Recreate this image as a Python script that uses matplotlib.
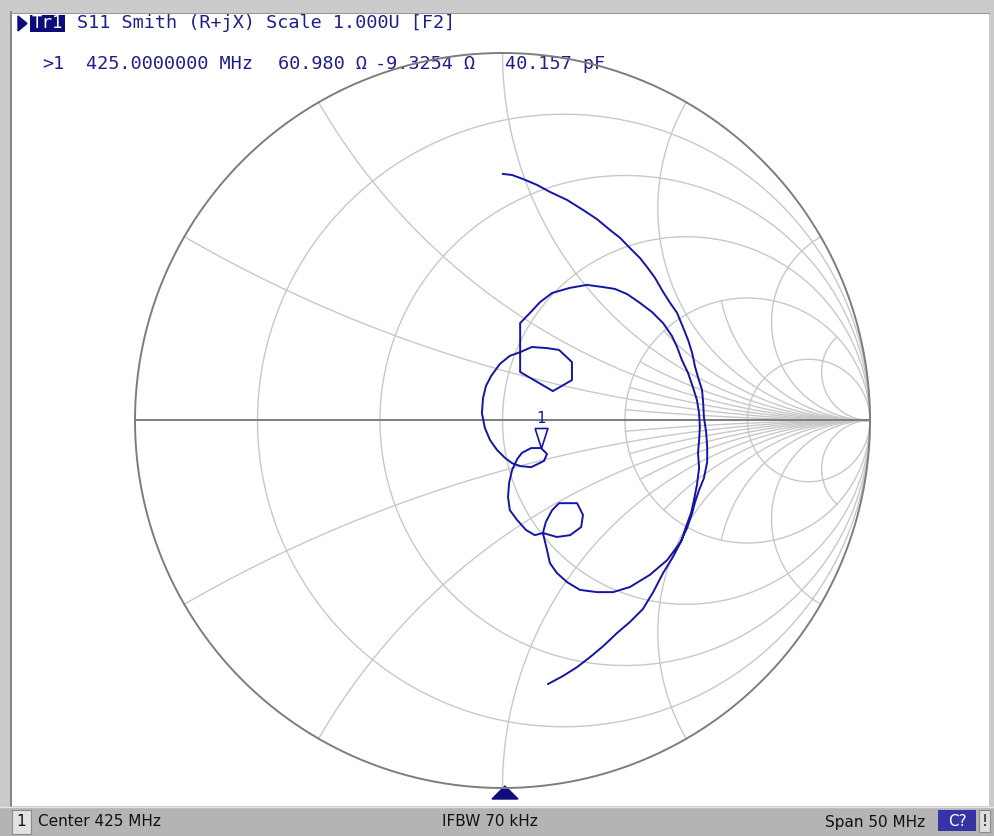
import numpy as np
import matplotlib.pyplot as plt
from matplotlib.patches import Rectangle, Polygon


gamma_re = [0.001, 0.026, 0.056, 0.094, 0.129, 0.176, 0.219, 0.257, 0.293, 0.320,
            0.347, 0.374, 0.393, 0.415, 0.437, 0.456, 0.475, 0.491, 0.505, 0.516,
            0.524, 0.532, 0.543, 0.546, 0.548, 0.554, 0.557, 0.557, 0.548, 0.535,
            0.524, 0.516, 0.502, 0.483, 0.448, 0.401, 0.347, 0.301, 0.257, 0.211,
            0.176, 0.148, 0.129, 0.121, 0.110,
            0.118, 0.135, 0.154, 0.203, 0.219, 0.214, 0.184, 0.148, 0.110,
            0.088, 0.064, 0.040, 0.020, 0.015, 0.018, 0.026,
            0.040, 0.053, 0.078, 0.105, 0.121, 0.113, 0.078, 0.048, 0.026,
            0.007, -0.015, -0.034, -0.048, -0.056, -0.053, -0.045, -0.031, -0.007,
            0.020, 0.048,
            0.080, 0.121, 0.154, 0.189, 0.189, 0.137, 0.094, 0.048, 0.048, 0.048,
            0.075, 0.102, 0.135, 0.184, 0.230, 0.274, 0.306, 0.339, 0.374, 0.407,
            0.437, 0.461, 0.475, 0.488, 0.505, 0.518, 0.529, 0.535, 0.537, 0.535,
            0.532, 0.535, 0.529, 0.521,
            0.513, 0.499, 0.488, 0.464, 0.437, 0.410, 0.382, 0.347, 0.312, 0.274,
            0.238, 0.203, 0.165, 0.124]
gamma_im = [0.671, 0.668, 0.657, 0.641, 0.622, 0.600, 0.573, 0.548, 0.518, 0.497,
            0.469, 0.442, 0.418, 0.388, 0.350, 0.320, 0.293, 0.254, 0.219, 0.184,
            0.146, 0.118, 0.083, 0.048, 0.010, -0.031, -0.072, -0.113, -0.157, -0.189,
            -0.222, -0.252, -0.293, -0.333, -0.380, -0.420, -0.453, -0.467, -0.467, -0.461,
            -0.440, -0.415, -0.388, -0.352, -0.306,
            -0.276, -0.244, -0.225, -0.225, -0.257, -0.290, -0.312, -0.317, -0.306,
            -0.312, -0.298, -0.271, -0.244, -0.208, -0.170, -0.135,
            -0.105, -0.088, -0.075, -0.075, -0.091, -0.110, -0.127, -0.124, -0.116,
            -0.102, -0.080, -0.053, -0.020, 0.020, 0.061, 0.094, 0.121, 0.154,
            0.176, 0.186,
            0.200, 0.197, 0.192, 0.159, 0.110, 0.080, 0.105, 0.132, 0.186, 0.265,
            0.293, 0.322, 0.347, 0.361, 0.369, 0.363, 0.358, 0.344, 0.320, 0.295,
            0.265, 0.230, 0.200, 0.165, 0.129, 0.091, 0.056, 0.020, -0.018, -0.053,
            -0.088, -0.129, -0.176, -0.216,
            -0.252, -0.290, -0.325, -0.371, -0.415, -0.467, -0.513, -0.548, -0.578, -0.614,
            -0.644, -0.671, -0.695, -0.717]

# marker 1 readout
marker_freq = "425.0000000 MHz"
marker_r = 60.980
marker_x = -9.3254
marker_cap = "40.157 pF"
z0 = 50.0

# Smith chart grid values (normalised resistance / reactance)
r_grid = [0.2, 0.5, 1.0, 2.0, 5.0]
x_grid = [0.268, 0.577, 1.0, 1.732, 3.732]
x_fine = [0.132, 0.414, 0.767, 1.303, 2.414, 7.596]
x_fine_from_r = 2.0

header = "S11 Smith (R+jX) Scale 1.000U [F2]"
status_left = "Center 425 MHz"
status_mid = "IFBW 70 kHz"
status_right = "Span 50 MHz"

TRACE = "#1414a8"
TEXT = "#1e1e8e"
NAVY = "#0c0c7a"
GRID = "#c8c8c8"
DARK = "#7d7d7d"


def to_gamma(z):
    return (z - 1) / (z + 1)


fig = plt.figure(figsize=(9.95, 8.36), dpi=100)
fig.patch.set_facecolor("#cbcbcb")

# window frame, pixel coordinates
bg = fig.add_axes([0, 0, 1, 1])
bg.set_xlim(0, 995)
bg.set_ylim(836, 0)
bg.set_axis_off()
bg.add_patch(Rectangle((12, 13), 977, 793, facecolor="white", edgecolor="none"))
bg.plot([10.5, 10.5], [12, 806], color="#7a7a7a", lw=1.2)
bg.plot([10.5, 989], [12.5, 12.5], color="#9a9a9a", lw=0.8)
bg.add_patch(Rectangle((0, 807), 995, 29, facecolor="#b4b4b4", edgecolor="none"))
bg.plot([0, 995], [807, 807], color="#e6e6e6", lw=1)

# header
bg.add_patch(Polygon([(18, 16), (18, 31), (27, 23.5)], closed=True, color=NAVY))
bg.add_patch(Rectangle((30, 15), 35, 17, facecolor=NAVY, edgecolor="none"))
bg.text(47.5, 23.5, "Tr1", color="white", ha="center", va="center",
        family="DejaVu Sans Mono", fontsize=12.5)
bg.text(77, 23.5, header, color=TEXT, ha="left", va="center",
        family="DejaVu Sans Mono", fontsize=13.3)

# marker readout line
mono = dict(color=TEXT, ha="left", va="center", family="DejaVu Sans Mono", fontsize=13.3)
bg.text(42, 64, ">1", **mono)
bg.text(86, 64, marker_freq, **mono)
bg.text(278, 64, "%.3f Ω" % marker_r, **mono)
bg.text(375, 64, "%.4f Ω" % marker_x, **mono)
bg.text(505, 64, marker_cap, **mono)

# stimulus marker at the bottom
bg.add_patch(Polygon([(492, 799), (518, 799), (505, 786)], closed=True, color=NAVY))

# status bar
bg.add_patch(Rectangle((12, 810), 19, 24, facecolor="#e2e2e2", edgecolor="#8a8a8a", lw=0.8))
bg.text(21.5, 822, "1", ha="center", va="center", fontsize=11, color="#111111")
bg.text(38, 822, status_left, ha="left", va="center", fontsize=11, color="#111111")
bg.text(442, 822, status_mid, ha="left", va="center", fontsize=11, color="#111111")
bg.text(925, 822, status_right, ha="right", va="center", fontsize=11, color="#111111")
bg.add_patch(Rectangle((938, 810), 38, 21, facecolor="#3434a4", edgecolor="none"))
bg.text(957, 821, "C?", ha="center", va="center", fontsize=11, color="white")
bg.add_patch(Rectangle((979, 810), 11, 22, facecolor="#dedede", edgecolor="#8a8a8a", lw=0.8))
bg.text(984.5, 821, "!", ha="center", va="center", fontsize=11, color="#111111")

# Smith chart axes: centre (502.5, 420.5) px, radius 367.5 px
cx, cy, rad, m = 502.5, 420.5, 367.5, 1.02
half = rad * m
ax = fig.add_axes([(cx - half) / 995, (836 - cy - half) / 836, 2 * half / 995, 2 * half / 836])
ax.set_xlim(-m, m)
ax.set_ylim(-m, m)
ax.set_axis_off()
ax.patch.set_visible(False)

t = np.linspace(0, 2 * np.pi, 721)
for r in r_grid:
    c = r / (1 + r)
    rr = 1 / (1 + r)
    ax.plot(c + rr * np.cos(t), rr * np.sin(t), color=GRID, lw=1.0, zorder=1)

r_full = np.append(np.tan(np.linspace(0, np.pi / 2 - 1e-3, 600)), 1e6)
for xv in x_grid:
    for s in (1, -1):
        g = to_gamma(r_full + 1j * s * xv)
        ax.plot(g.real, g.imag, color=GRID, lw=1.0, zorder=1)

r_part = np.append(np.tan(np.linspace(np.arctan(x_fine_from_r), np.pi / 2 - 1e-3, 300)), 1e6)
for xv in x_fine:
    for s in (1, -1):
        g = to_gamma(r_part + 1j * s * xv)
        ax.plot(g.real, g.imag, color=GRID, lw=1.0, zorder=1)

ax.plot(np.cos(t), np.sin(t), color=DARK, lw=1.4, zorder=2)
ax.plot([-1, 1], [0, 0], color=DARK, lw=1.4, zorder=2)

ax.plot(gamma_re, gamma_im, color=TRACE, lw=1.4, zorder=3, solid_joinstyle="round")

gm = to_gamma(complex(marker_r, marker_x) / z0)
tri = [(-0.32, 1.0), (0.32, 1.0), (0.0, 0.0), (-0.32, 1.0)]
ax.plot([gm.real], [gm.imag], marker=tri, markersize=28.8, markerfacecolor="white",
        markeredgecolor=TRACE, markeredgewidth=1.2, zorder=4)
ax.annotate("1", xy=(gm.real, gm.imag), xytext=(0, 21.5), textcoords="offset points",
            ha="center", va="center", color=TRACE, family="DejaVu Sans Mono", fontsize=11,
            zorder=5)

fig.savefig("out.png", dpi=100)
